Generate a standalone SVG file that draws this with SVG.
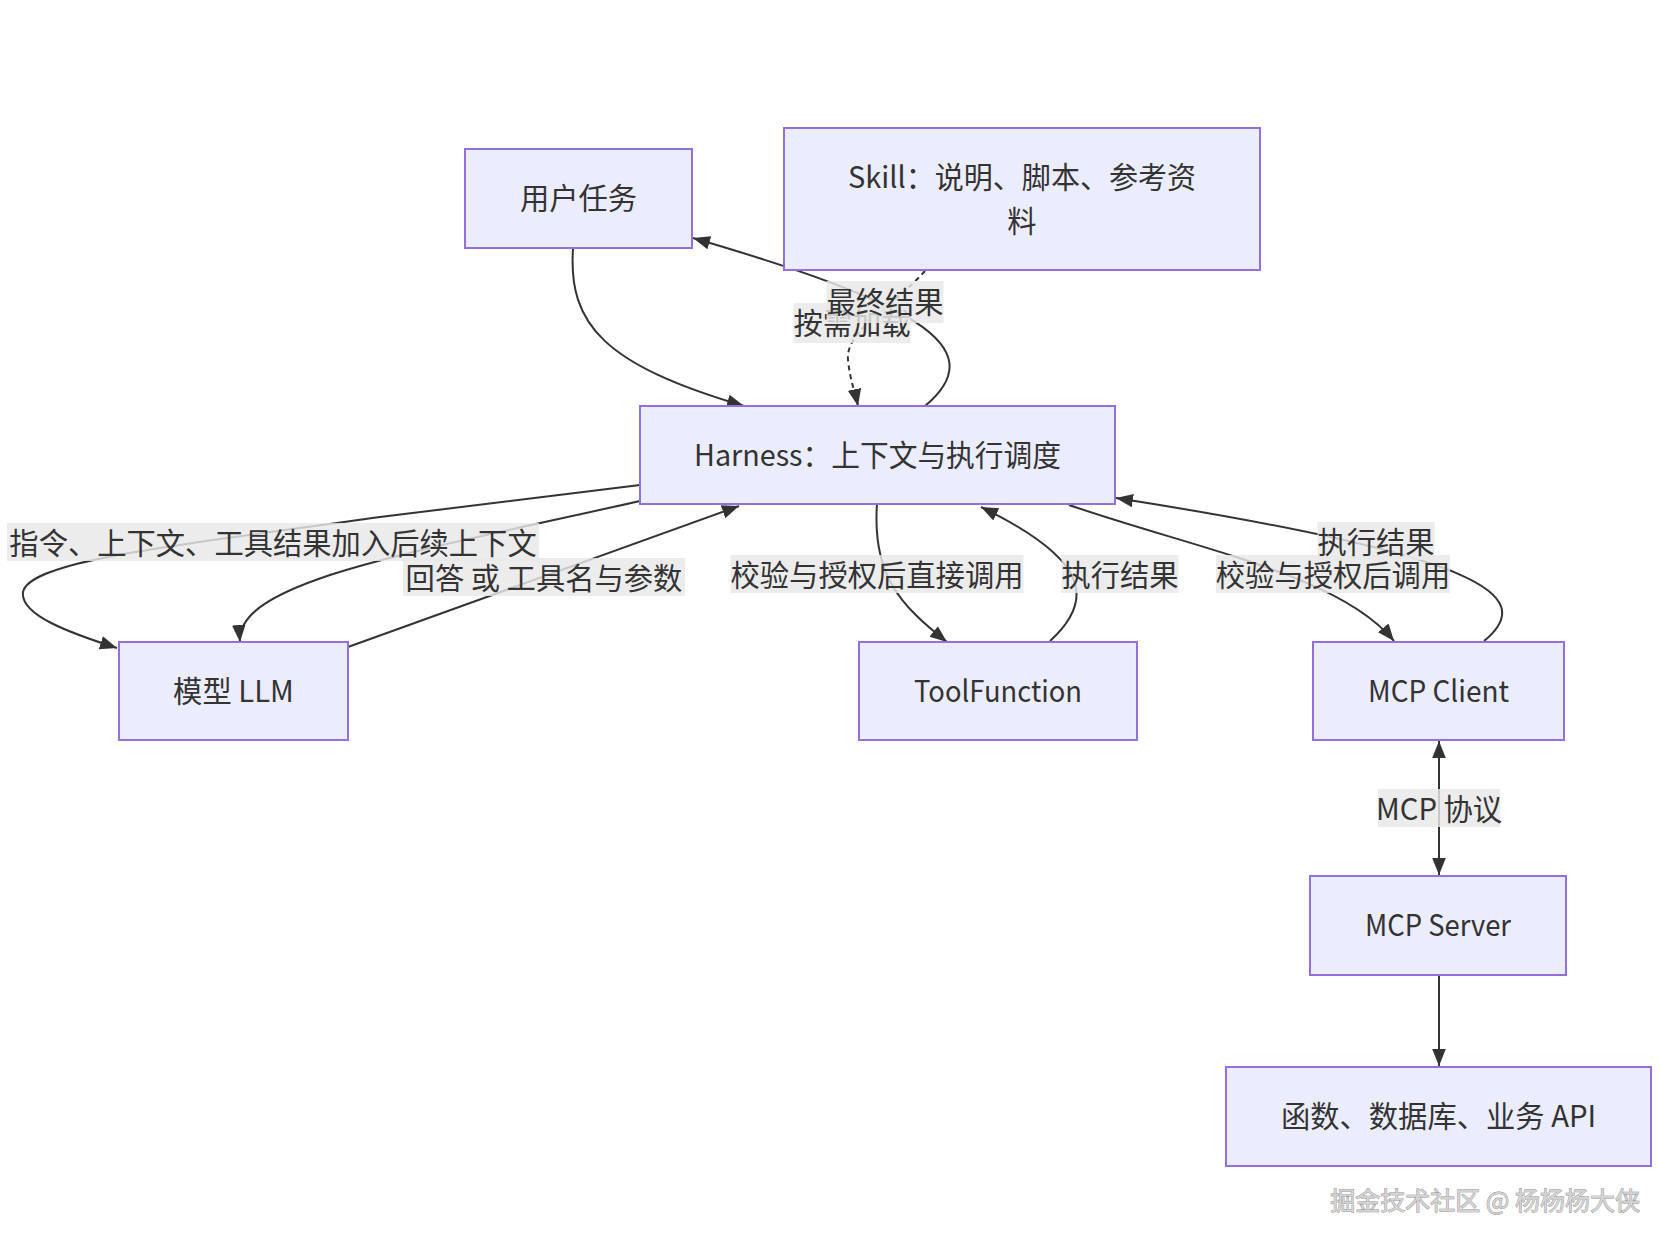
<svg xmlns="http://www.w3.org/2000/svg" width="1672" height="1244" viewBox="0 0 1672 1244">
<style>
  .node rect { fill: #ECECFF; stroke: #9370DB; stroke-width: 2; }
  .node text, .lbl text { font-family: "Noto Sans CJK SC", "Noto Sans", sans-serif; font-size: 29.3px; fill: #333; text-anchor: middle; dominant-baseline: central; }
  .edge { fill: none; stroke: #333; stroke-width: 2; }
  .dash { stroke-dasharray: 5 4; }
  .lbl rect { fill: #e8e8e8; fill-opacity: 0.82; }
  .wm { font-family: "Noto Sans CJK SC", sans-serif; font-size: 25px; fill: #d4d4d4; stroke: #8a8a8a; stroke-width: 0.8; paint-order: stroke; text-anchor: end; dominant-baseline: central; }
</style>
<defs>
  <marker id="arr" viewBox="0 0 10 10" refX="10" refY="5" markerWidth="17" markerHeight="17" markerUnits="userSpaceOnUse" orient="auto-start-reverse">
    <path d="M0,1 L10,5 L0,9 z" fill="#333"/>
  </marker>
</defs>
<rect width="1672" height="1244" fill="#fff"/>

<g id="connectors">
  <path class="edge" d="M573,249 C568,325 605,365 744,406" marker-end="url(#arr)"/>
  <path class="edge" d="M925,406 C998,345 905,300 693,238" marker-end="url(#arr)"/>
  <path class="edge dash" d="M925,271 C895,305 845,330 848,360 C850,380 855,392 858,406" marker-end="url(#arr)"/>
  <path class="edge" d="M640,485 L380,517 C180,545 30,560 23,592 C20,615 70,633 117,648" marker-end="url(#arr)"/>
  <path class="edge" d="M640,501 C520,528 400,552 330,575 C270,595 238,615 240,642" marker-end="url(#arr)"/>
  <path class="edge" d="M348,647 L739,506" marker-end="url(#arr)"/>
  <path class="edge" d="M877,504 C872,575 900,605 947,642" marker-end="url(#arr)"/>
  <path class="edge" d="M1050,641 C1095,600 1090,560 981,507" marker-end="url(#arr)"/>
  <path class="edge" d="M1069,505 C1200,550 1340,575 1394,641" marker-end="url(#arr)"/>
  <path class="edge" d="M1484,641 C1540,595 1480,555 1116,498" marker-end="url(#arr)"/>
  <path class="edge" d="M1439,741 L1439,875" marker-start="url(#arr)" marker-end="url(#arr)"/>
  <path class="edge" d="M1439,975 L1439,1066" marker-end="url(#arr)"/>

  <g class="lbl"><rect x="793.5" y="303" width="117" height="40"/><text x="852" y="321">按需加载</text></g>
  <g class="lbl"><rect x="826.5" y="281" width="117" height="42"/><text x="885" y="300">最终结果</text></g>
  <g class="lbl"><rect x="7" y="523" width="532" height="38"/><text x="273" y="541">指令、上下文、工具结果加入后续上下文</text></g>
  <g class="lbl"><rect x="403" y="558" width="282" height="38"/><text x="544" y="576">回答 或 工具名与参数</text></g>
  <g class="lbl"><rect x="730.5" y="555" width="293" height="38"/><text x="877" y="573">校验与授权后直接调用</text></g>
  <g class="lbl"><rect x="1061.5" y="555" width="117" height="38"/><text x="1120" y="573">执行结果</text></g>
  <g class="lbl"><rect x="1216" y="555" width="234" height="38"/><text x="1333" y="573">校验与授权后调用</text></g>
  <g class="lbl"><rect x="1317.5" y="522" width="117" height="38"/><text x="1376" y="540">执行结果</text></g>
  <g class="lbl"><rect x="1378" y="789" width="122" height="38"/><text x="1439" y="807">MCP 协议</text></g>
</g>

<g id="user" class="node"><rect x="465" y="149" width="227" height="99"/><text x="578.5" y="196">用户任务</text></g>
<g id="skill" class="node"><rect x="784" y="128" width="476" height="142"/><text x="1022" y="175" textLength="348" lengthAdjust="spacingAndGlyphs">Skill：说明、脚本、参考资</text><text x="1022" y="219">料</text></g>
<g id="harness" class="node"><rect x="640" y="406" width="475" height="98"/><text x="877.5" y="453" textLength="367" lengthAdjust="spacingAndGlyphs">Harness：上下文与执行调度</text></g>
<g id="llm" class="node"><rect x="119" y="642" width="229" height="98"/><text x="233.5" y="689">模型 LLM</text></g>
<g id="tool" class="node"><rect x="859" y="642" width="278" height="98"/><text x="998" y="689" textLength="168" lengthAdjust="spacingAndGlyphs">ToolFunction</text></g>
<g id="mcpclient" class="node"><rect x="1313" y="642" width="251" height="98"/><text x="1438.5" y="689" textLength="141" lengthAdjust="spacingAndGlyphs">MCP Client</text></g>
<g id="mcpserver" class="node"><rect x="1310" y="876" width="256" height="99"/><text x="1438" y="923" textLength="146" lengthAdjust="spacingAndGlyphs">MCP Server</text></g>
<g id="api" class="node"><rect x="1226" y="1067" width="425" height="99"/><text x="1438.5" y="1114">函数、数据库、业务 API</text></g>

<text class="wm" x="1640" y="1199">掘金技术社区 @ 杨杨杨大侠</text>
</svg>
